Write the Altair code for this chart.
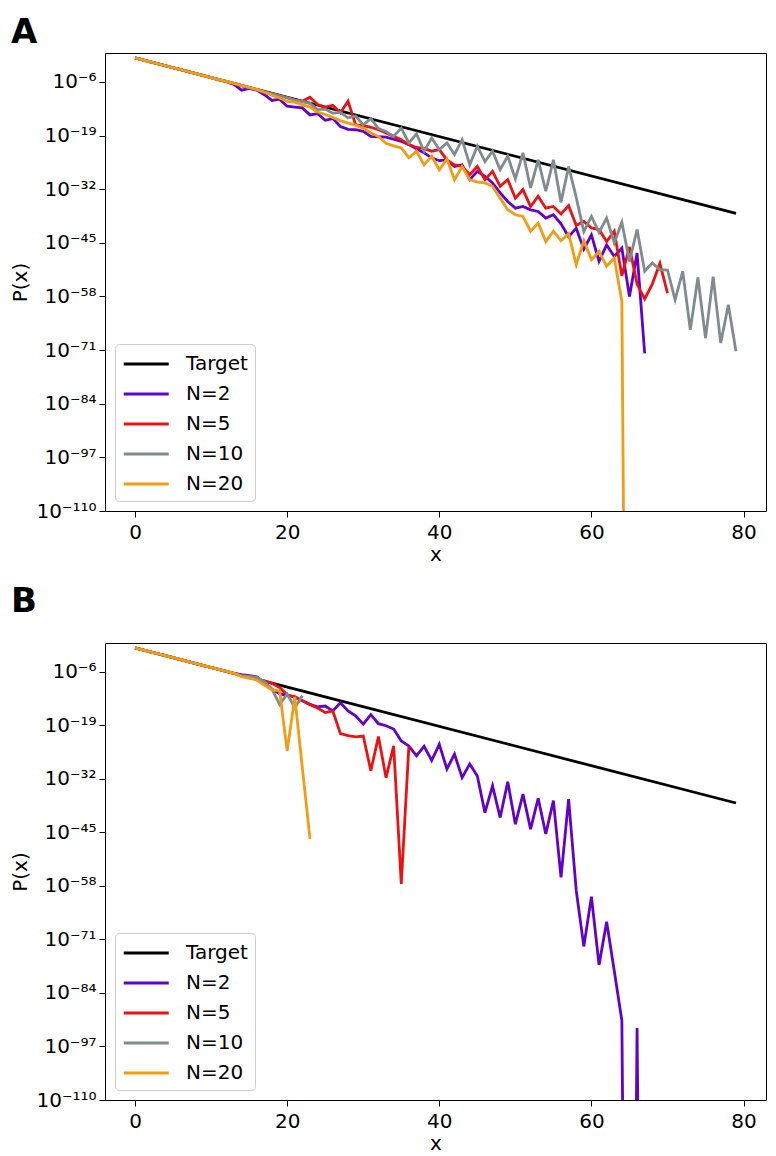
import altair as alt
import pandas as pd

# ---------------- data (log10 of P(x)), index = x ----------------
X_TICKS = [0, 20, 40, 60, 80]
Y_TICKS = [-6, -19, -32, -45, -58, -71, -84, -97, -110]
Y_LABELS = ["10⁻⁶", "10⁻¹⁹", "10⁻³²", "10⁻⁴⁵", "10⁻⁵⁸", "10⁻⁷¹", "10⁻⁸⁴", "10⁻⁹⁷", "10⁻¹¹⁰"]

SERIES = ["Target", "N=2", "N=5", "N=10", "N=20"]
COLORS = ["#000000", "#6200cc", "#ee1111", "#7f8c8d", "#f39c12"]

TARGET_X = [0, 79]
TARGET_LOGP = [-0.18, -37.86]

A_N2 = [-0.18, -0.66, -1.13, -1.61, -2.09, -2.57, -3.04, -3.52, -4.00, -4.47, -4.95, -5.50, -5.95, -6.60,
        -8.00, -7.60, -8.00, -9.10, -10.5, -10.2, -11.9, -12.1, -12.3, -14.0, -13.7, -15.3, -14.9, -16.8,
        -17.5, -17.6, -18.0, -19.2, -19.3, -19.4, -19.9, -20.4, -21.2, -22.2, -23.2, -24.4, -25.1, -24.9,
        -26.5, -26.1, -29.7, -27.7, -28.9, -30.5, -32.9, -35.0, -36.6, -36.2, -37.0, -37.4, -39.0, -38.2,
        -40.4, -43.5, -41.5, -46.5, -43.1, -49.5, -45.5, -48.3, -46.3, -58.0, -47.5, -71.8]
A_N5 = [-0.18, -0.66, -1.13, -1.61, -2.09, -2.57, -3.04, -3.52, -4.00, -4.47, -4.95, -5.43, -5.90, -6.38,
        -6.90, -7.40, -7.90, -8.40, -8.90, -9.30, -9.80, -10.3, -10.7, -9.70, -11.5, -12.1, -11.7, -13.5,
        -10.7, -16.4, -16.6, -17.0, -17.6, -18.4, -19.2, -20.0, -21.2, -21.9, -22.2, -22.8, -22.4, -24.9,
        -26.1, -26.5, -28.5, -26.5, -29.7, -27.7, -31.3, -29.7, -34.2, -32.1, -36.2, -33.7, -36.6, -36.2,
        -38.0, -36.0, -40.8, -39.8, -41.4, -41.8, -44.7, -42.2, -53.0, -46.0, -55.0, -58.6, -55.0, -50.0,
        -57.2]
A_N10 = [-0.18, -0.66, -1.13, -1.61, -2.09, -2.57, -3.04, -3.52, -4.00, -4.47, -4.95, -5.43, -5.90, -6.38,
         -6.90, -7.40, -7.90, -8.40, -8.90, -9.40, -9.90, -10.4, -10.8, -11.2, -12.7, -12.6, -13.6, -13.4,
         -14.7, -14.3, -16.4, -14.9, -17.3, -18.0, -19.2, -17.2, -20.8, -18.6, -22.8, -19.6, -22.4, -20.8,
         -23.6, -20.0, -26.1, -21.6, -25.3, -22.8, -27.3, -24.0, -29.5, -23.2, -31.7, -24.9, -32.5, -24.9,
         -35.2, -26.5, -34.0, -42.3, -38.6, -42.5, -39.0, -45.0, -40.0, -49.5, -41.8, -51.9, -49.9, -51.5,
         -51.6, -58.8, -51.9, -66.1, -53.4, -68.1, -53.2, -69.3, -60.0, -71.3]
A_N20 = [-0.18, -0.66, -1.13, -1.61, -2.09, -2.57, -3.04, -3.52, -4.00, -4.47, -4.95, -5.43, -5.90, -6.38,
         -6.86, -7.34, -7.81, -8.50, -9.20, -9.90, -10.7, -10.9, -11.5, -12.1, -13.3, -13.9, -14.6, -15.4,
         -16.0, -16.5, -17.2, -18.4, -19.2, -20.9, -21.5, -22.0, -24.4, -22.8, -26.1, -24.0, -27.3, -24.7,
         -29.7, -26.5, -29.7, -30.3, -30.5, -31.3, -34.2, -37.0, -38.2, -38.6, -42.2, -40.2, -44.7, -42.2,
         -44.5, -42.8, -50.3, -44.5, -49.1, -47.1, -50.7, -48.7, -59.2, -300.0]

B_N2 = [-0.18, -0.66, -1.13, -1.61, -2.09, -2.57, -3.04, -3.52, -4.00, -4.47, -4.95, -5.43, -5.90, -6.38,
        -6.70, -6.90, -7.20, -8.60, -10.2, -11.3, -11.8, -12.1, -13.0, -13.9, -14.5, -14.3, -15.5, -13.5,
        -15.5, -16.7, -18.7, -16.4, -18.6, -19.1, -19.9, -22.8, -24.0, -26.4, -24.1, -27.5, -23.6, -29.6,
        -26.0, -31.7, -28.4, -31.3, -40.2, -33.7, -41.4, -32.7, -43.0, -35.7, -44.2, -36.7, -45.4, -37.3,
        -55.9, -36.9, -59.1, -72.7, -60.6, -77.2, -66.7, -78.6, -90.7, -300.0, -92.5, -300.0]
B_N5 = [-0.18, -0.66, -1.13, -1.61, -2.09, -2.57, -3.04, -3.52, -4.00, -4.47, -4.95, -5.43, -5.90, -6.38,
        -6.90, -7.50, -7.80, -8.20, -8.80, -9.80, -11.6, -12.1, -13.0, -14.0, -14.8, -15.9, -15.5, -21.0,
        -21.5, -21.8, -21.6, -30.0, -21.7, -31.7, -24.0, -57.5, -24.1]
B_N10 = [-0.18, -0.66, -1.13, -1.61, -2.09, -2.57, -3.04, -3.52, -4.00, -4.47, -4.95, -5.43, -5.90, -6.38,
         -6.90, -7.10, -7.30, -8.40, -10.2, -13.9, -11.4, -14.7, -11.8]
B_N20 = [-0.18, -0.66, -1.13, -1.61, -2.09, -2.57, -3.04, -3.52, -4.00, -4.47, -4.95, -5.43, -5.90, -6.38,
         -7.20, -7.50, -8.00, -9.20, -10.4, -10.6, -25.2, -12.1, -29.4, -46.6]

PANELS = {
    "A": {"N=2": A_N2, "N=5": A_N5, "N=10": A_N10, "N=20": A_N20},
    "B": {"N=2": B_N2, "N=5": B_N5, "N=10": B_N10, "N=20": B_N20},
}


def build_frame(series_map):
    rows = [{"series": "Target", "x": xv, "logp": yv} for xv, yv in zip(TARGET_X, TARGET_LOGP)]
    for name, vals in series_map.items():
        rows += [{"series": name, "x": i, "logp": v} for i, v in enumerate(vals)]
    return pd.DataFrame(rows)


label_expr = "''"
for v, lab in reversed(list(zip(Y_TICKS, Y_LABELS))):
    label_expr = f"datum.value == {v} ? '{lab}' : ({label_expr})"


def panel(letter, title_offset, height, x_title_pad):
    df = build_frame(PANELS[letter])
    base = alt.Chart(df)
    layers = []
    for s in SERIES:
        layers.append(
            base.transform_filter(alt.datum.series == s)
            .mark_line(clip=True, strokeWidth=2.8)
            .encode(
                x=alt.X("x:Q",
                        scale=alt.Scale(domain=[-3.95, 82.95], nice=False, zero=False),
                        axis=alt.Axis(values=X_TICKS, title="x", labelPadding=5,
                                      titlePadding=x_title_pad)),
                y=alt.Y("logp:Q",
                        scale=alt.Scale(domain=[-110, 1.0], nice=False, zero=False),
                        axis=alt.Axis(values=Y_TICKS, labelExpr=label_expr, title="P(x)",
                                      labelPadding=3, titlePadding=5)),
                color=alt.Color("series:N",
                                scale=alt.Scale(domain=SERIES, range=COLORS),
                                legend=alt.Legend(title=None, orient="bottom-left", offset=10,
                                                  fillColor="white", strokeColor="#cccccc",
                                                  cornerRadius=4, padding=7,
                                                  symbolType="M-1,0H3",
                                                  symbolStrokeWidth=3, symbolSize=506,
                                                  labelFontSize=20, labelFont="DejaVu Sans",
                                                  labelColor="black", labelOffset=38,
                                                  rowPadding=7)),
            )
        )
    return alt.layer(*layers).properties(
        width=661, height=height,
        title=alt.TitleParams(letter, anchor="start", frame="bounds", fontSize=34, fontWeight="bold",
                              font="DejaVu Sans", color="black", baseline="alphabetic",
                              offset=title_offset),
    )


chart = (
    alt.vconcat(panel("A", -24, 458, 2), panel("B", -3, 457, 2), spacing=19)
    .resolve_scale(color="independent")
    .resolve_legend(color="independent")
    .properties(padding={"left": 2, "top": 7, "right": 0, "bottom": 0})
    .configure_view(stroke="black", strokeWidth=1)
    .configure_axis(domain=False, grid=False, tickColor="black", tickSize=6, tickWidth=1,
                    labelColor="black", labelFont="DejaVu Sans", labelFontSize=20,
                    titleFont="DejaVu Sans", titleFontSize=20, titleFontWeight="normal",
                    titleColor="black")
)

chart.save("out.html", embed_options={"renderer": "svg", "actions": False})
